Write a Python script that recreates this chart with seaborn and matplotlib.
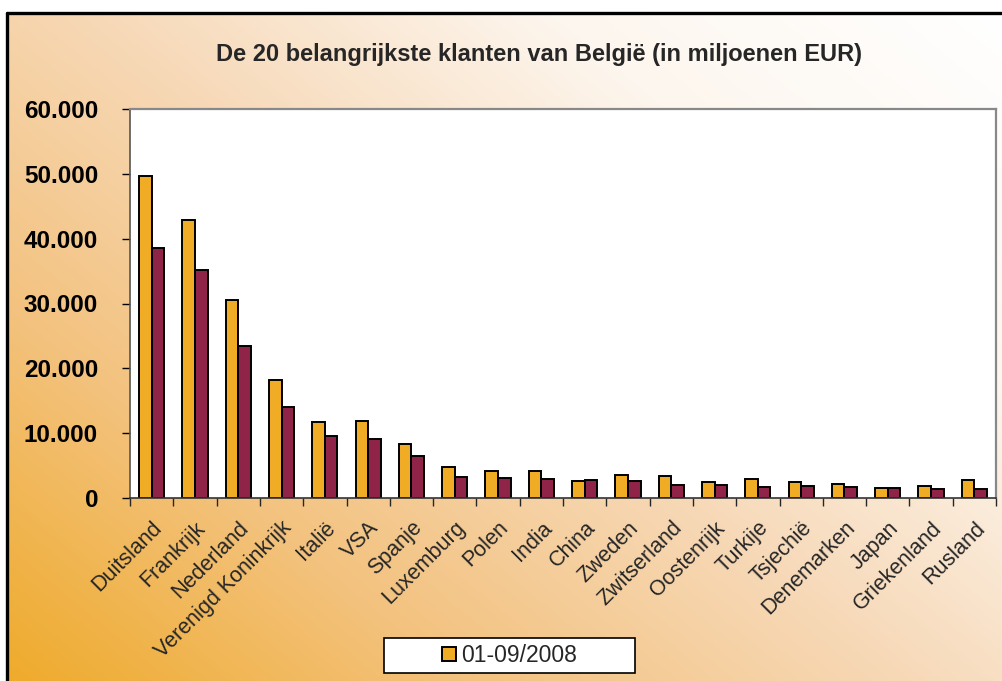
import matplotlib
matplotlib.use("Agg")
import matplotlib.pyplot as plt
import numpy as np
import pandas as pd
import seaborn as sns
from matplotlib.colors import LinearSegmentedColormap
from matplotlib.lines import Line2D
from matplotlib.patches import Patch
from matplotlib.ticker import FuncFormatter, FixedLocator

# --- data (millions EUR) ---
countries = ["Duitsland", "Frankrijk", "Nederland", "Verenigd Koninkrijk", "Italië",
             "VSA", "Spanje", "Luxemburg", "Polen", "India", "China", "Zweden",
             "Zwitserland", "Oostenrijk", "Turkije", "Tsjechië", "Denemarken",
             "Japan", "Griekenland", "Rusland"]
values_2008 = [49700, 42900, 30500, 18200, 11700, 11800, 8300, 4800, 4100, 4200,
               2600, 3500, 3400, 2500, 3000, 2400, 2100, 1600, 1850, 2800]
values_2009 = [38600, 35200, 23500, 14000, 9500, 9100, 6500, 3300, 3100, 3000,
               2700, 2600, 2000, 2000, 1750, 1850, 1650, 1550, 1450, 1450]
series = ["01-09/2008", "01-09/2009"]
colors = ["#EFAC24", "#8F2348"]

df = pd.DataFrame({
    "Land": countries * 2,
    "Waarde": values_2008 + values_2009,
    "Periode": [series[0]] * len(countries) + [series[1]] * len(countries),
})

sns.set_style("white")
plt.rcParams["font.family"] = ["Liberation Sans", "DejaVu Sans"]

W, H = 1003, 681
fig = plt.figure(figsize=(W / 100, H / 100), dpi=100)
fig.patch.set_facecolor("white")

# --- gradient background inside the outer frame ---
bg = fig.add_axes([8 / W, 0, 1 - 8 / W, 1 - 13 / H], zorder=-10)
cmap = LinearSegmentedColormap.from_list(
    "bg", ["#EFAB2C", "#F3C27E", "#F7D9B8", "#FDF6EE", "#FFFFFF"])
gx, gy = np.meshgrid(np.linspace(0, 1, 300), np.linspace(0, 1, 300))
grad = (gx * 0.55 + gy * 0.45)
bg.imshow(grad, cmap=cmap, origin="lower", aspect="auto", extent=[0, 1, 0, 1])
bg.set_axis_off()

# outer frame (left and top edges)
fig.add_artist(Line2D([7 / W, 7 / W], [0, 1 - 13 / H], color="black", lw=2.4,
                      transform=fig.transFigure))
fig.add_artist(Line2D([7 / W, 1], [1 - 13 / H, 1 - 13 / H], color="black", lw=2.4,
                      transform=fig.transFigure))

# --- main plot ---
ax = fig.add_axes([130 / W, 1 - 498 / H, (996 - 130) / W, (498 - 109) / H])
ax.set_facecolor("white")
sns.barplot(data=df, x="Land", y="Waarde", hue="Periode", palette=colors,
            width=0.58, gap=0, edgecolor="black", linewidth=1.4,
            saturation=1, legend=False, ax=ax)

ax.set_ylim(0, 60000)
ax.set_xlim(-0.5, len(countries) - 0.5)
ax.set_yticks(np.arange(0, 60001, 10000))
ax.yaxis.set_major_formatter(FuncFormatter(lambda v, p: f"{int(v):,}".replace(",", ".")))
ax.tick_params(axis="y", labelsize=17.5, length=6, width=1, direction="out",
               left=True, pad=17, colors="black")
for lbl in ax.get_yticklabels():
    lbl.set_fontweight("bold")

ax.set_xticks(range(len(countries)))
ax.set_xticklabels(countries, rotation=45, ha="right", rotation_mode="anchor",
                   fontsize=15.5)
ax.tick_params(axis="x", which="major", length=0, pad=14)
ax.xaxis.set_minor_locator(FixedLocator(np.arange(-0.5, len(countries), 1)))
ax.tick_params(axis="x", which="minor", length=6, width=1, direction="out", bottom=True)

ax.set_xlabel("")
ax.set_ylabel("")
for side in ["top", "right"]:
    ax.spines[side].set_color("#888888")
    ax.spines[side].set_linewidth(1.6)
ax.spines["left"].set_color("#555555")
ax.spines["bottom"].set_color("#333333")
ax.spines["left"].set_linewidth(1.2)
ax.spines["bottom"].set_linewidth(1.2)

fig.text(539 / W, 1 - 55 / H, "De 20 belangrijkste klanten van België (in miljoenen EUR)",
         ha="center", va="center", fontsize=17, fontweight="bold")

handles = [Patch(facecolor=colors[0], edgecolor="black", linewidth=1.4, label=series[0])]
leg = fig.legend(handles=handles, loc="center", bbox_to_anchor=(509.5 / W, 1 - 655.5 / H),
                 fontsize=16.5, frameon=True, fancybox=False, handlelength=0.6,
                 handleheight=0.6, handletextpad=0.2, borderpad=0.25,
                 borderaxespad=0)
leg.get_frame().set_edgecolor("black")
leg.get_frame().set_linewidth(1.2)
leg.get_frame().set_facecolor("white")
leg.get_frame().set_alpha(1)
# widen legend box like the original
leg._legend_box.set_width(240)  # noqa

fig.savefig("out.png", dpi=100)
